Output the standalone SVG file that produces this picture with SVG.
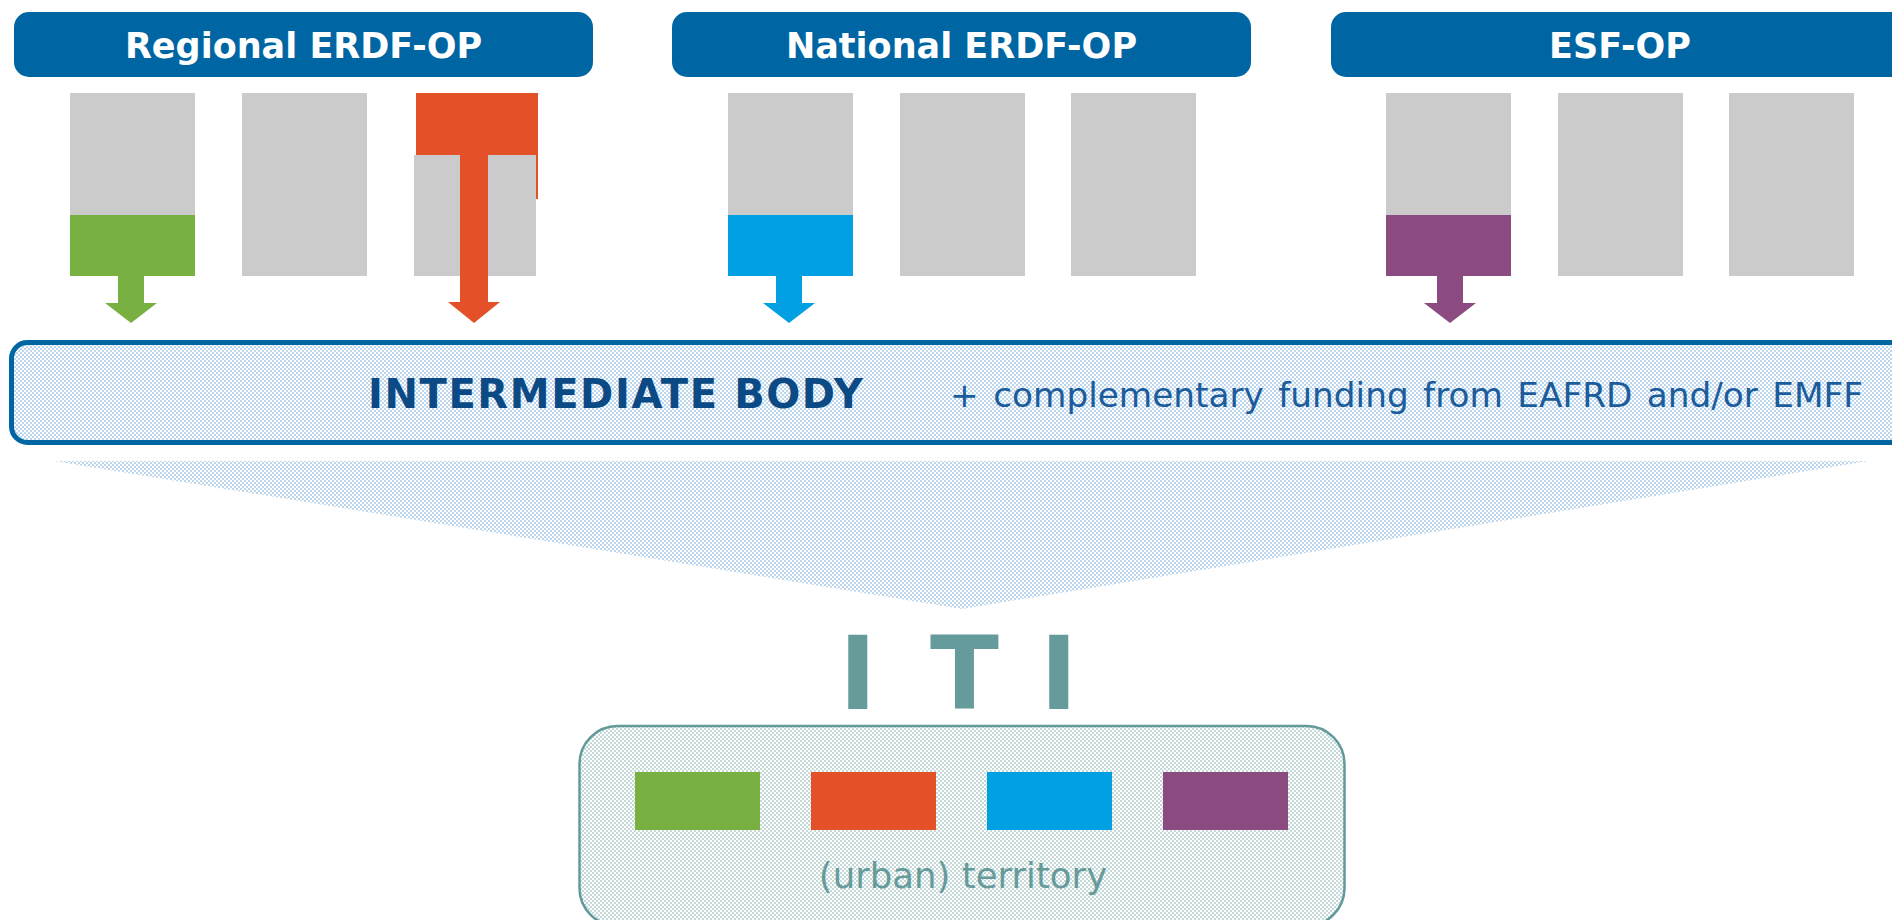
<svg xmlns="http://www.w3.org/2000/svg" width="1892" height="920" viewBox="0 0 1892 920">
  <defs>
    <pattern id="dotsBlue" patternUnits="userSpaceOnUse" width="4" height="4">
      <rect x="0" y="0" width="2" height="2" fill="#bcd6ee"/>
      <rect x="2" y="2" width="2" height="2" fill="#bcd6ee"/>
    </pattern>
    <pattern id="dotsTeal" patternUnits="userSpaceOnUse" width="4" height="4">
      <rect x="0" y="0" width="2" height="2" fill="#c6d9d9"/>
      <rect x="2" y="2" width="2" height="2" fill="#c6d9d9"/>
    </pattern>
  </defs>
  <style>
    .hdr { fill: #0066a3; }
    .hdrText { font-family: "DejaVu Sans", Verdana, sans-serif; font-weight: bold; font-size: 35px; fill: #ffffff; text-anchor: middle; }
    .gray { fill: #cbcbcb; }
    .green { fill: #78b042; }
    .red { fill: #e45128; }
    .blue { fill: #00a0e2; }
    .purple { fill: #8b4b80; }
    .ibText { font-family: "DejaVu Sans", Verdana, sans-serif; font-weight: bold; font-size: 40px; fill: #0b4a84; letter-spacing: 1.6px; }
    .ibSub { font-family: "DejaVu Sans", Verdana, sans-serif; font-size: 34.3px; fill: #1b5c9c; word-spacing: 3.5px; }
    .iti { font-family: "DejaVu Sans", Verdana, sans-serif; font-weight: bold; font-size: 101px; fill: #669b9b; }
    .terrText { font-family: "DejaVu Sans", Verdana, sans-serif; font-size: 35.5px; fill: #669b9b; text-anchor: middle; }
  </style>
  <rect x="0" y="0" width="1892" height="920" fill="#ffffff"/>

  <!-- Headers -->
  <g id="regional-op">
    <rect class="hdr" x="14" y="12" width="579" height="65" rx="15"/>
    <text class="hdrText" x="303.5" y="58">Regional ERDF-OP</text>
  </g>
  <g id="national-op">
    <rect class="hdr" x="672" y="12" width="579" height="65" rx="15"/>
    <text class="hdrText" x="961.5" y="58">National ERDF-OP</text>
  </g>
  <g id="esf-op">
    <rect class="hdr" x="1331" y="12" width="579" height="65" rx="15"/>
    <text class="hdrText" x="1620" y="58">ESF-OP</text>
  </g>

  <!-- Regional columns -->
  <g id="regional-col1">
    <rect class="gray" x="70" y="93" width="125" height="122"/>
    <rect class="green" x="70" y="215" width="125" height="61"/>
  </g>
  <g id="regional-col2">
    <rect class="gray" x="242" y="93" width="125" height="183"/>
  </g>
  <g id="regional-col3">
    <rect class="red" x="416" y="93" width="122" height="106"/>
    <rect class="gray" x="414" y="155" width="122" height="121"/>
  </g>

  <!-- National columns -->
  <g id="national-col1">
    <rect class="gray" x="728" y="93" width="125" height="122"/>
    <rect class="blue" x="728" y="215" width="125" height="61"/>
  </g>
  <g id="national-col2">
    <rect class="gray" x="900" y="93" width="125" height="183"/>
  </g>
  <g id="national-col3">
    <rect class="gray" x="1071" y="93" width="125" height="183"/>
  </g>

  <!-- ESF columns -->
  <g id="esf-col1">
    <rect class="gray" x="1386" y="93" width="125" height="122"/>
    <rect class="purple" x="1386" y="215" width="125" height="61"/>
  </g>
  <g id="esf-col2">
    <rect class="gray" x="1558" y="93" width="125" height="183"/>
  </g>
  <g id="esf-col3">
    <rect class="gray" x="1729" y="93" width="125" height="183"/>
  </g>

  <!-- Connectors -->
  <g id="connectors">
    <polygon class="green" points="118,276 144,276 144,303 157,303 131,323 105,303 118,303"/>
    <polygon class="red" points="460,155 488,155 488,302 500,302 474,323 448,302 460,302"/>
    <polygon class="blue" points="776,276 802,276 802,303 815,303 789,323 763,303 776,303"/>
    <polygon class="purple" points="1437,276 1463,276 1463,303 1476,303 1450,323 1424,303 1437,303"/>
  </g>

  <!-- Intermediate body -->
  <g id="intermediate-body">
    <rect x="11.5" y="342.5" width="1900" height="100" rx="16" fill="url(#dotsBlue)" stroke="#0066a3" stroke-width="5"/>
    <text class="ibText" x="368" y="408">INTERMEDIATE BODY</text>
    <text class="ibSub" x="950" y="407">+ complementary funding from EAFRD and/or EMFF</text>
  </g>

  <!-- Funnel -->
  <g id="funnel">
    <polygon points="54,461 1869,461 962,609" fill="url(#dotsBlue)"/>
  </g>

  <!-- ITI label -->
  <g id="iti-label">
    <text class="iti" x="839 890 930 1010 1040" y="709">I T I</text>
  </g>

  <!-- Territory -->
  <g id="territory">
    <rect x="579.5" y="726" width="765" height="200" rx="38" fill="url(#dotsTeal)" stroke="#629a9a" stroke-width="2.5"/>
    <rect class="green" x="635" y="772" width="125" height="58"/>
    <rect class="red" x="811" y="772" width="125" height="58"/>
    <rect class="blue" x="987" y="772" width="125" height="58"/>
    <rect class="purple" x="1163" y="772" width="125" height="58"/>
    <text class="terrText" x="963" y="888">(urban) territory</text>
  </g>
</svg>
